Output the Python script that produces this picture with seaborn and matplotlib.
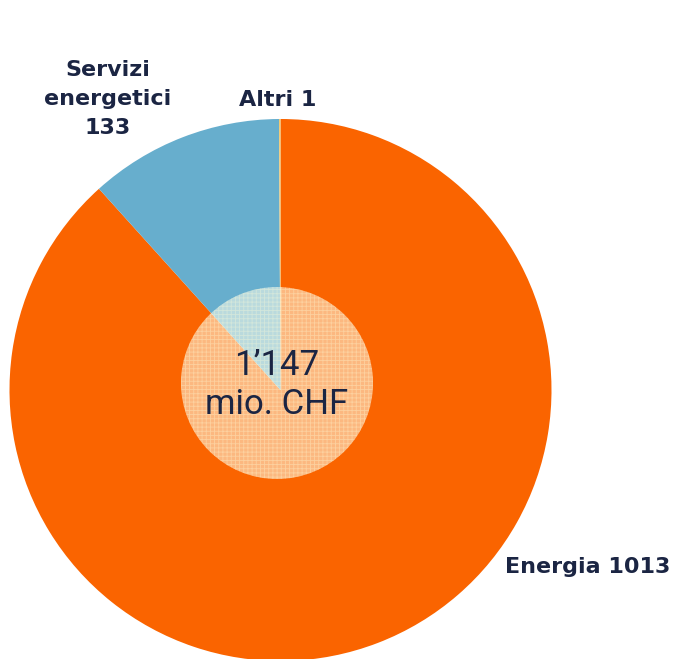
import matplotlib.pyplot as plt
import seaborn as sns
from matplotlib.patches import Circle

# Dati (mio. CHF)
categorie = ["Energia", "Servizi energetici", "Altri"]
valori = [1013, 133, 1]
colori = ["#FA6400", "#67AECD", "#F0C870"]
totale_label = "1\u2019147\nmio. CHF"

sns.set_style("white")
plt.rcParams['font.family'] = ['DejaVu Sans']
plt.rcParams['hatch.linewidth'] = 0.6

fig = plt.figure(figsize=(6.77, 6.59), dpi=100)
ax = fig.add_axes([0, 0, 1, 1])

# torta: in senso orario dall'alto (asse y invertito)
ax.pie(valori, colors=colori, startangle=-90, counterclock=True,
       center=(280.5, 390), radius=271, frame=True,
       wedgeprops={'linewidth': 0})
ax.set_xlim(0, 677)
ax.set_ylim(659, 0)
ax.set_aspect('equal')
ax.axis('off')

# cerchio centrale trasparente con trama
ax.add_patch(Circle((277, 383), 96, facecolor=(1, 1, 0.92, 0.55), linewidth=0, zorder=3))
ax.add_patch(Circle((277, 383), 96, fill=False, edgecolor=(1, 1, 0.85, 0.35),
                    hatch='++++', linewidth=0, zorder=4))

testo = "#1B2543"
ax.text(277, 385, totale_label, ha='center', va='center', fontsize=25,
        color=testo, family='Roboto', linespacing=1.2, zorder=5)

# etichette
etichette = [f"Servizi\nenergetici\n{valori[1]}", f"Altri {valori[2]}", f"Energia {valori[0]}"]
ax.text(108, 99, etichette[0], ha='center', va='center', fontsize=16,
        fontweight='bold', color=testo, linespacing=1.55)
ax.text(278, 100, etichette[1], ha='center', va='center', fontsize=16,
        fontweight='bold', color=testo)
ax.text(588, 567, etichette[2], ha='center', va='center', fontsize=16,
        fontweight='bold', color=testo)

fig.savefig("out.png", dpi=100)
